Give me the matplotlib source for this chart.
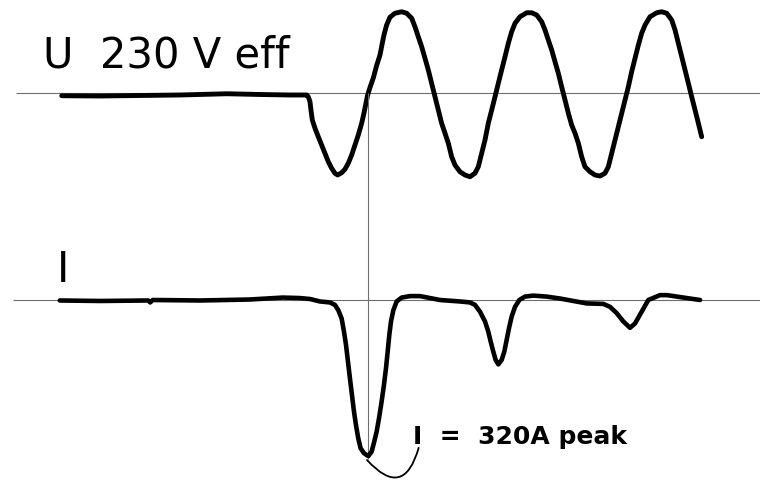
import matplotlib
matplotlib.use("Agg")
import matplotlib.pyplot as plt

plt.rcParams["font.family"] = ["DejaVu Sans"]

# voltage trace: time in ms (0 = current peak), voltage in V
u_time = [-47.1, -41.2, -35.1, -28.9, -21.7, -16.6, -12.0, -9.43, -9.18, -8.92,
          -8.77, -8.56, -8.15, -7.64, -7.13, -6.62, -6.10, -5.59, -5.08, -4.67,
          -4.05, -3.54, -3.03, -2.51, -2.00, -1.49, -0.97, -0.62, -0.31, -0.05,
          0.31, 0.82, 1.31, 1.85, 2.15, 2.46, 2.87, 3.38, 4.15, 5.18,
          5.95, 6.72, 7.23, 7.74, 8.26, 8.77, 9.28, 9.79, 10.31, 10.82,
          11.33, 11.85, 12.36, 12.87, 13.38, 14.15, 14.92, 15.69, 16.46, 16.97,
          17.49, 18.00, 18.51, 19.03, 19.54, 20.05, 20.56, 21.08, 21.59, 22.10,
          22.62, 23.38, 24.41, 25.18, 25.95, 26.72, 27.23, 27.74, 28.26, 28.77,
          29.28, 29.79, 30.31, 30.82, 31.33, 31.85, 32.36, 32.87, 33.38, 34.15,
          34.92, 35.69, 36.46, 36.97, 37.49, 38.00, 38.51, 39.03, 39.54, 40.05,
          40.56, 41.08, 41.59, 42.10, 42.62, 43.38, 44.41, 45.18, 45.95, 46.72,
          47.23, 47.74, 48.26, 48.77, 49.28, 49.79, 50.31, 50.82, 51.33]
u_volt = [-11, -12, -10, -8, -3, -6, -8, -8, -15, -35,
          -68, -108, -141, -175, -208, -241, -275, -301, -321, -328,
          -319, -305, -281, -248, -208, -168, -121, -81, -41, -8,
          22, 60, 108, 152, 192, 232, 272, 303, 319, 325,
          319, 299, 265, 225, 185, 139, 92, 39, -15, -68,
          -121, -161, -201, -255, -288, -315, -328, -335, -321, -295,
          -241, -188, -121, -68, -15, 39, 92, 145, 199, 245,
          279, 305, 321, 321, 312, 285, 252, 212, 172, 125,
          79, 25, -28, -81, -128, -161, -201, -255, -295, -315,
          -328, -332, -321, -295, -241, -188, -135, -81, -28, 25,
          85, 139, 192, 239, 272, 305, 321, 325, 319, 292,
          252, 199, 145, 92, 39, -15, -68, -121, -175]

# current trace: time in ms, current in A
i_time = [-47.4, -41.2, -33.8, -33.5, -33.1, -25.8, -18.2, -13.1, -10.5, -8.9,
          -7.38, -5.85, -5.08, -4.56, -4.05, -3.69, -3.38, -3.08, -2.77, -2.46,
          -2.15, -1.85, -1.49, -1.13, -0.62, 0.05, 0.56, 0.97, 1.33, 1.69,
          2.10, 2.46, 2.77, 3.03, 3.28, 3.54, 3.90, 4.41, 5.18, 6.46,
          8.00, 11.08, 14.15, 15.69, 16.46, 17.23, 18.00, 18.51, 18.87, 19.28,
          19.64, 20.05, 20.56, 20.97, 21.33, 21.69, 22.10, 22.62, 23.28, 24.15,
          25.43, 27.49, 29.54, 31.59, 33.64, 36.20, 37.23, 38.26, 39.28, 40.31,
          41.08, 42.10, 43.12, 44.92, 46.00, 48.00, 51.08]
i_amp = [-1, -2, -1, -5, 0, -1, 1, 5, 4, 2,
         -3, -5, -10, -21, -38, -65, -92, -126, -161, -195,
         -229, -256, -284, -304, -314, -320, -311, -290, -270, -243,
         -208, -174, -140, -106, -72, -44, -21, -3, 5, 8,
         8, 0, -3, -5, -10, -24, -44, -65, -85, -106,
         -123, -132, -123, -106, -82, -58, -34, -14, 0, 7,
         9, 7, 3, -2, -7, -8, -14, -27, -44, -57,
         -48, -24, 0, 10, 10, 6, 0]

u_label = "U  230 V eff"
i_label = "I"
peak_label = "I  =  320A peak"

fig = plt.figure(figsize=(7.6, 4.8), dpi=100)
ax_u = fig.add_axes([0, 0, 1, 1])
ax_i = fig.add_axes([0, 0, 1, 1])
for ax in (ax_u, ax_i):
    ax.set_xlim(-56.6, 60.3)
    ax.axis("off")
    ax.patch.set_alpha(0)
ax_u.set_ylim(-1548, 372)
ax_i.set_ylim(-369, 615)

grey = "#6e6e6e"
ax_u.hlines(0, -54.2, 60.3, color=grey, lw=0.8)
ax_i.hlines(0, -54.6, 60.3, color=grey, lw=0.8)

# vertical marker from the U zero line down to the current peak
top = ax_i.transData.inverted().transform(ax_u.transData.transform((0, 0)))[1]
ax_i.vlines(0, min(i_amp) - 5, top, color=grey, lw=0.8)

ax_u.plot(u_time, u_volt, color="black", lw=3.5, solid_capstyle="round", solid_joinstyle="round")
ax_i.plot(i_time, i_amp, color="black", lw=3.3, solid_capstyle="round", solid_joinstyle="round")

ax_i.annotate("", xy=(7.8, -303), xytext=(-0.15, -328),
              arrowprops=dict(arrowstyle="-", connectionstyle="arc3,rad=0.9",
                              shrinkA=0, shrinkB=0, lw=1.3, color="black"))

fig.text(43 / 760, 1 - 67 / 480, u_label, fontsize=30, va="baseline", ha="left")
fig.text(57 / 760, 1 - 282 / 480, i_label, fontsize=30, va="baseline", ha="left")
fig.text(413 / 760, 1 - 444 / 480, peak_label, fontsize=18, fontweight="bold",
         va="baseline", ha="left")

fig.savefig("out.png", dpi=100)
plt.close(fig)
